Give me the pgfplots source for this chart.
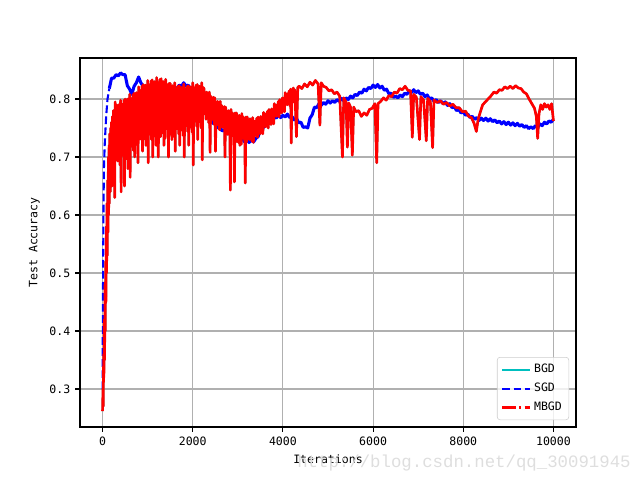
\documentclass[border=0pt]{standalone}
\usepackage{fontspec}
\setmainfont{DejaVu Sans Mono}
\newfontfamily\wmfont{Liberation Mono}
\usepackage{pgfplots}
\usepackage{pgfplotstable}
\pgfplotsset{compat=1.18}
\definecolor{mplc}{rgb}{0,0.75,0.75}
\definecolor{mplgrid}{RGB}{176,176,176}

\pgfplotstableread{
x y
0 0.30
10 0.47
20 0.60
30 0.68
50 0.725
80 0.77
110 0.80
150 0.818
}\sgdramp

\pgfplotstableread{
x y
150 0.818
200 0.836
250 0.836
300 0.842
350 0.840
400 0.845
450 0.842
500 0.842
550 0.823
600 0.817
650 0.808
700 0.822
750 0.828
800 0.838
850 0.828
900 0.822
950 0.815
1000 0.817
1050 0.815
1100 0.822
1150 0.820
1200 0.827
1250 0.820
1300 0.822
1350 0.815
1400 0.817
1450 0.815
1500 0.822
1550 0.817
1600 0.820
1650 0.818
1700 0.824
1750 0.822
1800 0.828
1850 0.822
1900 0.824
1950 0.817
2000 0.818
2050 0.813
2100 0.817
2150 0.810
2200 0.807
2250 0.793
2300 0.787
2350 0.773
2400 0.767
2450 0.758
2500 0.757
2550 0.750
2600 0.752
2650 0.745
2700 0.747
2750 0.740
2800 0.742
2850 0.736
2900 0.739
2950 0.734
3000 0.737
3050 0.730
3100 0.732
3150 0.726
3200 0.730
3250 0.725
3300 0.729
3350 0.726
3400 0.732
3450 0.735
3500 0.747
3550 0.748
3600 0.757
3650 0.757
3700 0.765
3750 0.763
3800 0.770
3850 0.767
3900 0.772
3950 0.768
4000 0.772
4050 0.769
4100 0.774
4150 0.768
4200 0.770
4250 0.764
4300 0.767
4350 0.759
4400 0.760
4450 0.751
4500 0.752
4550 0.750
4600 0.767
4650 0.773
4700 0.786
4750 0.785
4800 0.792
4850 0.789
4900 0.794
4950 0.791
5000 0.797
5050 0.793
5100 0.797
5150 0.794
5200 0.799
5250 0.796
5300 0.801
5350 0.797
5400 0.802
5450 0.799
5500 0.805
5550 0.802
5600 0.808
5650 0.806
5700 0.812
5750 0.810
5800 0.817
5850 0.814
5900 0.820
5950 0.818
6000 0.824
6050 0.820
6100 0.825
6150 0.819
6200 0.822
6250 0.815
6300 0.817
6350 0.809
6400 0.810
6450 0.803
6500 0.805
6550 0.802
6600 0.807
6650 0.804
6700 0.810
6750 0.808
6800 0.814
6850 0.811
6900 0.816
6950 0.811
7000 0.814
7050 0.808
7100 0.810
7150 0.804
7200 0.807
7250 0.800
7300 0.802
7350 0.796
7400 0.799
7450 0.794
7500 0.797
7550 0.792
7600 0.795
7650 0.789
7700 0.792
7750 0.785
7800 0.787
7850 0.780
7900 0.782
7950 0.776
8000 0.778
8050 0.772
8100 0.774
8150 0.768
8200 0.770
8250 0.765
8300 0.768
8350 0.763
8400 0.767
8450 0.763
8500 0.767
8550 0.762
8600 0.766
8650 0.761
8700 0.764
8750 0.759
8800 0.762
8850 0.757
8900 0.761
8950 0.756
9000 0.760
9050 0.755
9100 0.759
9150 0.754
9200 0.758
9250 0.753
9300 0.756
9350 0.751
9400 0.754
9450 0.749
9500 0.752
9550 0.749
9600 0.754
9650 0.751
9700 0.757
9750 0.754
9800 0.760
9850 0.757
9900 0.762
9950 0.760
10000 0.765
}\sgd

\pgfplotstableread{
x y
0 0.262
10 0.30
15 0.27
25 0.36
30 0.32
40 0.42
45 0.35
55 0.48
60 0.40
70 0.52
75 0.45
85 0.58
90 0.50
100 0.62
105 0.53
115 0.66
120 0.57
130 0.70
135 0.60
145 0.72
150 0.62
160 0.74
170 0.64
180 0.75
190 0.66
200 0.76
210 0.65
220 0.77
230 0.68
240 0.78
250 0.66
260 0.77
270 0.63
280 0.795
290 0.70
300 0.790
312 0.700
325 0.782
337 0.693
350 0.790
362 0.720
375 0.783
387 0.686
400 0.798
412 0.640
425 0.791
437 0.705
450 0.791
462 0.731
475 0.798
487 0.650
500 0.800
512 0.715
525 0.792
537 0.707
550 0.800
562 0.680
575 0.793
587 0.700
600 0.808
612 0.665
625 0.801
637 0.718
650 0.801
662 0.744
675 0.808
687 0.711
700 0.810
712 0.700
725 0.803
737 0.721
750 0.811
762 0.748
775 0.805
787 0.690
800 0.821
812 0.745
825 0.815
837 0.731
850 0.814
862 0.757
875 0.822
887 0.710
900 0.825
912 0.740
925 0.817
937 0.731
950 0.824
962 0.720
975 0.817
987 0.722
1000 0.832
1012 0.690
1025 0.825
1037 0.739
1050 0.824
1062 0.764
1075 0.831
1087 0.730
1100 0.833
1112 0.700
1125 0.824
1137 0.736
1150 0.830
1162 0.761
1175 0.823
1187 0.720
1200 0.837
1212 0.758
1225 0.829
1237 0.700
1250 0.827
1262 0.769
1275 0.834
1287 0.735
1300 0.835
1312 0.750
1325 0.825
1337 0.741
1350 0.830
1362 0.720
1375 0.821
1387 0.732
1400 0.834
1412 0.763
1425 0.825
1437 0.748
1450 0.822
1462 0.700
1475 0.827
1487 0.739
1500 0.827
1512 0.755
1525 0.817
1537 0.730
1550 0.823
1562 0.770
1575 0.814
1587 0.735
1600 0.828
1612 0.710
1625 0.819
1637 0.750
1650 0.817
1662 0.775
1675 0.822
1687 0.740
1700 0.823
1712 0.720
1725 0.814
1737 0.746
1750 0.820
1762 0.771
1775 0.812
1787 0.737
1800 0.826
1812 0.700
1825 0.818
1837 0.753
1850 0.816
1862 0.779
1875 0.822
1887 0.744
1900 0.823
1912 0.720
1925 0.814
1937 0.751
1950 0.821
1962 0.777
1975 0.813
1987 0.743
2000 0.828
2012 0.686
2025 0.820
2037 0.761
2050 0.818
2062 0.787
2075 0.824
2087 0.753
2100 0.825
2112 0.730
2125 0.816
2137 0.760
2150 0.822
2162 0.785
2175 0.814
2187 0.750
2200 0.828
2212 0.695
2225 0.820
2250 0.818
2265 0.774
2280 0.811
2295 0.765
2310 0.812
2325 0.782
2340 0.805
2355 0.759
2370 0.812
2385 0.708
2400 0.805
2415 0.764
2430 0.802
2445 0.779
2460 0.803
2475 0.756
2490 0.802
2505 0.710
2520 0.795
2535 0.755
2550 0.796
2565 0.771
2580 0.789
2595 0.747
2610 0.796
2625 0.763
2640 0.789
2655 0.751
2670 0.786
2685 0.765
2700 0.787
2715 0.700
2730 0.786
2745 0.749
2760 0.779
2775 0.739
2790 0.780
2805 0.755
2820 0.774
2835 0.643
2850 0.782
2865 0.748
2880 0.776
2895 0.736
2910 0.774
2925 0.657
2940 0.776
2955 0.726
2970 0.776
2985 0.734
3000 0.770
3015 0.725
3030 0.772
3045 0.720
3060 0.766
3075 0.722
3090 0.775
3105 0.741
3120 0.769
3135 0.731
3150 0.767
3165 0.655
3180 0.769
3195 0.726
3210 0.769
3225 0.737
3240 0.764
3255 0.730
3270 0.766
3285 0.748
3300 0.760
3315 0.727
3330 0.768
3345 0.725
3360 0.762
3375 0.736
3390 0.762
3405 0.754
3420 0.767
3435 0.734
3450 0.769
3465 0.746
3480 0.766
3495 0.740
3510 0.770
3525 0.760
3540 0.767
3555 0.740
3570 0.777
3585 0.760
3600 0.774
3615 0.752
3630 0.775
3645 0.770
3660 0.779
3675 0.750
3690 0.782
3705 0.762
3720 0.778
3735 0.756
3750 0.783
3765 0.776
3780 0.780
3795 0.757
3810 0.792
3825 0.778
3840 0.789
3855 0.770
3870 0.790
3885 0.788
3900 0.796
3915 0.769
3930 0.799
3945 0.781
3960 0.796
3975 0.776
3990 0.802
4005 0.797
4020 0.799
4035 0.778
4050 0.811
4065 0.798
4080 0.808
4095 0.790
4110 0.809
4125 0.808
4140 0.814
4155 0.788
4170 0.817
4185 0.724
4200 0.814
4215 0.794
4230 0.819
4245 0.814
4260 0.816
4275 0.793
4300 0.735
4330 0.820
4360 0.822
4420 0.818
4480 0.826
4540 0.821
4600 0.829
4660 0.824
4720 0.832
4780 0.826
4820 0.755
4850 0.828
4900 0.822
4960 0.820
5020 0.814
5080 0.816
5140 0.809
5200 0.812
5260 0.805
5320 0.700
5350 0.802
5400 0.795
5430 0.717
5460 0.793
5500 0.786
5540 0.703
5570 0.786
5620 0.778
5680 0.780
5740 0.770
5800 0.776
5860 0.772
5920 0.782
5980 0.784
6040 0.792
6080 0.690
6110 0.792
6170 0.796
6230 0.802
6290 0.798
6350 0.806
6410 0.804
6470 0.812
6530 0.810
6590 0.818
6650 0.816
6710 0.822
6770 0.815
6830 0.814
6870 0.734
6900 0.808
6960 0.803
7030 0.730
7060 0.804
7120 0.798
7180 0.728
7210 0.801
7270 0.796
7320 0.716
7350 0.798
7420 0.794
7490 0.797
7560 0.791
7630 0.794
7700 0.788
7770 0.791
7840 0.785
7910 0.785
7980 0.778
8050 0.779
8120 0.770
8180 0.768
8240 0.758
8290 0.744
8330 0.765
8380 0.778
8430 0.790
8490 0.795
8550 0.800
8610 0.805
8680 0.812
8740 0.810
8800 0.816
8860 0.815
8920 0.821
8980 0.818
9040 0.822
9100 0.818
9160 0.823
9220 0.819
9280 0.818
9340 0.812
9400 0.809
9460 0.800
9520 0.792
9580 0.784
9620 0.770
9650 0.732
9680 0.775
9720 0.790
9760 0.782
9800 0.792
9840 0.786
9880 0.790
9920 0.782
9960 0.792
10000 0.762
}\mbgd

\begin{document}
\begin{tikzpicture}
\useasboundingbox (-57.6pt,-38.16pt) rectangle (403.2pt,307.44pt);
\begin{axis}[
  at={(0,0)}, anchor=south west,
  scale only axis, width=357.12pt, height=265.68pt,
  xmin=-500, xmax=10500, ymin=0.2345, ymax=0.8707,
  scaled x ticks=false, scaled y ticks=false,
  xtick={0,2000,4000,6000,8000,10000},
  xticklabels={0,2000,4000,6000,8000,10000},
  ytick={0.3,0.4,0.5,0.6,0.7,0.8},
  yticklabels={0.3,0.4,0.5,0.6,0.7,0.8},
  tick align=outside, major tick length=3.5pt,
  tick style={black, line width=0.8pt},
  xtick pos=bottom, ytick pos=left,
  axis line style={line width=0.8pt},
  grid=major, major grid style={mplgrid, line width=0.8pt},
  ticklabel style={font=\fontsize{8.3}{10}\selectfont},
  label style={font=\fontsize{8.3}{10}\selectfont},
  xlabel={Iterations}, ylabel={Test Accuracy},
  legend style={at={(1,0)}, anchor=south east, xshift=-5pt, yshift=5pt,
    draw=black!20, rounded corners=2pt, fill=white, fill opacity=0.8, text opacity=1,
    font=\fontsize{8.3}{10}\selectfont, row sep=2pt, inner sep=3pt,
    cells={anchor=west}},
  legend image code/.code={\draw[#1] (0pt,0pt) -- (20pt,0pt);},
  every axis plot/.append style={line join=round},
]
\addplot[mplc, line width=1.5pt, forget plot] table {\mbgd};
\addplot[blue, line width=1.5pt, dash pattern=on 5.55pt off 2.4pt, forget plot] table {\sgdramp};
\addplot[blue, line width=2.2pt, forget plot] table {\sgd};
\addplot[red, line width=1.9pt, forget plot] table {\mbgd};
\addlegendimage{mplc, line width=1.5pt}
\addlegendentry{BGD}
\addlegendimage{blue, line width=1.5pt, dash pattern=on 5.55pt off 2.4pt}
\addlegendentry{SGD}
\addlegendimage{red, line width=1.5pt, dash pattern=on 9.6pt off 2.4pt on 1.5pt off 2.4pt}
\addlegendentry{MBGD}
\end{axis}
\node[anchor=east, text=black!13, font=\wmfont\fontsize{12.5}{14}\selectfont] at (400pt,-26pt) {http://blog.csdn.net/qq\_30091945};
\end{tikzpicture}
\end{document}
